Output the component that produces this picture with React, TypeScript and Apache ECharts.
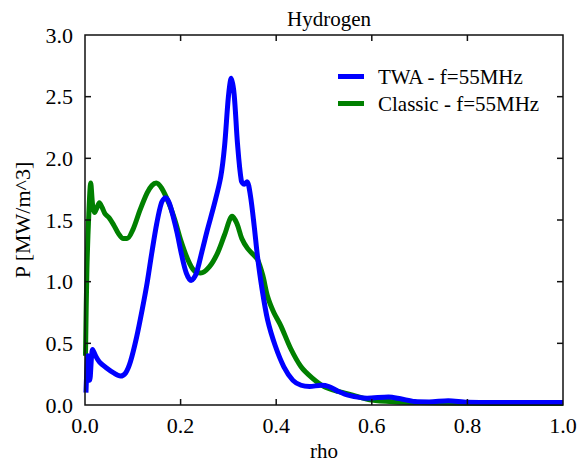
import React, { useEffect, useRef } from "react";
import * as echarts from "echarts";

const twaRho = [0.002, 0.006, 0.010, 0.016, 0.022, 0.030, 0.045, 0.060, 0.074, 0.085, 0.095, 0.108, 0.120, 0.130, 0.140, 0.150, 0.160, 0.168, 0.176, 0.185, 0.193, 0.202, 0.212, 0.222, 0.232, 0.245, 0.256, 0.270, 0.284, 0.292, 0.300, 0.306, 0.312, 0.319, 0.327, 0.333, 0.339, 0.346, 0.354, 0.361, 0.370, 0.382, 0.398, 0.416, 0.435, 0.452, 0.470, 0.494, 0.510, 0.530, 0.550, 0.590, 0.635, 0.660, 0.690, 0.720, 0.760, 0.800, 0.900, 1.000];
const twaP = [0.10, 0.40, 0.20, 0.45, 0.40, 0.35, 0.30, 0.26, 0.235, 0.26, 0.35, 0.55, 0.78, 0.99, 1.24, 1.47, 1.64, 1.68, 1.64, 1.52, 1.39, 1.22, 1.07, 1.01, 1.06, 1.25, 1.42, 1.62, 1.85, 2.10, 2.50, 2.65, 2.52, 2.12, 1.82, 1.79, 1.81, 1.70, 1.45, 1.20, 0.95, 0.69, 0.48, 0.31, 0.20, 0.16, 0.15, 0.16, 0.15, 0.11, 0.08, 0.055, 0.065, 0.05, 0.028, 0.025, 0.035, 0.022, 0.02, 0.02];

const classicRho = [0.001, 0.004, 0.008, 0.012, 0.016, 0.020, 0.025, 0.030, 0.036, 0.042, 0.050, 0.060, 0.070, 0.080, 0.088, 0.100, 0.115, 0.130, 0.140, 0.149, 0.160, 0.175, 0.188, 0.200, 0.215, 0.228, 0.242, 0.260, 0.277, 0.292, 0.308, 0.318, 0.328, 0.340, 0.352, 0.361, 0.372, 0.382, 0.395, 0.410, 0.430, 0.452, 0.475, 0.500, 0.530, 0.560, 0.600, 0.650, 0.700, 0.800, 0.900, 1.000];
const classicP = [0.40, 1.10, 1.55, 1.80, 1.62, 1.56, 1.60, 1.64, 1.60, 1.55, 1.52, 1.46, 1.39, 1.35, 1.35, 1.42, 1.58, 1.72, 1.78, 1.80, 1.76, 1.64, 1.50, 1.34, 1.18, 1.09, 1.07, 1.12, 1.23, 1.38, 1.53, 1.47, 1.35, 1.27, 1.22, 1.18, 1.05, 0.88, 0.75, 0.64, 0.46, 0.31, 0.22, 0.15, 0.11, 0.08, 0.04, 0.025, 0.02, 0.015, 0.012, 0.012];

const xTicks = [0, 0.2, 0.4, 0.6, 0.8, 1.0];
const yTicks = [0, 0.5, 1.0, 1.5, 2.0, 2.5, 3.0];

const seriesNames = ["TWA - f=55MHz", "Classic - f=55MHz"];
const seriesColors = ["#0000ff", "#008000"];

const FONT = "Liberation Serif";

export default function App() {
  const ref = useRef<HTMLDivElement>(null);
  useEffect(() => {
    if (!ref.current) return;
    const chart = echarts.init(ref.current, undefined, { renderer: "svg" });
    const pair = (xs: number[], ys: number[]) => xs.map((x, i) => [x, ys[i]]);
    const xMin = xTicks[0], xMax = xTicks[xTicks.length - 1];
    const yMin = yTicks[0], yMax = yTicks[yTicks.length - 1];

    const frameItem = (params: any, api: any) => {
      const [l, b] = api.coord([xMin, yMin]);
      const [r, t] = api.coord([xMax, yMax]);
      const stroke = { stroke: "#111", lineWidth: 1.5, fill: "none" };
      const children: any[] = [
        { type: "rect", shape: { x: l, y: t, width: r - l, height: b - t }, style: { ...stroke } },
      ];
      xTicks.slice(1, -1).forEach((v) => {
        const [x] = api.coord([v, yMin]);
        children.push({ type: "line", shape: { x1: x, y1: b, x2: x, y2: b - 6 }, style: { ...stroke } });
        children.push({ type: "line", shape: { x1: x, y1: t, x2: x, y2: t + 6 }, style: { ...stroke } });
      });
      yTicks.slice(1, -1).forEach((v) => {
        const [, y] = api.coord([xMin, v]);
        children.push({ type: "line", shape: { x1: l, y1: y, x2: l + 6, y2: y }, style: { ...stroke } });
        children.push({ type: "line", shape: { x1: r, y1: y, x2: r - 6, y2: y }, style: { ...stroke } });
      });
      return { type: "group", children };
    };

    chart.setOption({
      animation: false,
      textStyle: { fontFamily: FONT },
      title: {
        text: "Hydrogen",
        left: 324,
        top: 3,
        textAlign: "center",
        textStyle: { fontFamily: FONT, fontSize: 21, fontWeight: "normal", color: "#000" },
      },
      legend: {
        orient: "vertical",
        left: 333,
        top: 61,
        itemWidth: 26,
        itemHeight: 5,
        itemGap: 6,
        icon: "rect",
        data: seriesNames,
        textStyle: { fontFamily: FONT, fontSize: 21, color: "#000", padding: [0, 0, 0, 9] },
      },
      grid: { left: 85, right: 25, top: 35, bottom: 54, containLabel: false, outerBoundsMode: "none" },
      xAxis: {
        type: "value",
        min: xMin,
        max: xMax,
        interval: 0.2,
        name: "rho",
        nameLocation: "middle",
        nameGap: 27,
        nameTextStyle: { fontFamily: FONT, fontSize: 21, color: "#000" },
        axisLabel: { fontFamily: FONT, fontSize: 22, color: "#000", margin: 9, formatter: (v: number) => v.toFixed(1) },
        axisLine: { show: false },
        axisTick: { show: false },
        splitLine: { show: false },
      },
      yAxis: {
        type: "value",
        min: yMin,
        max: yMax,
        interval: 0.5,
        name: "P [MW/m^3]",
        nameLocation: "middle",
        nameGap: 52,
        nameTextStyle: { fontFamily: FONT, fontSize: 22, color: "#000" },
        axisLabel: { fontFamily: FONT, fontSize: 22, color: "#000", margin: 12, formatter: (v: number) => v.toFixed(1) },
        axisLine: { show: false },
        axisTick: { show: false },
        splitLine: { show: false },
      },
      series: [
        {
          name: seriesNames[0],
          type: "line",
          data: pair(twaRho, twaP),
          showSymbol: false,
          smooth: 0.3,
          color: seriesColors[0],
          lineStyle: { width: 5, color: seriesColors[0] },
          z: 3,
        },
        {
          name: seriesNames[1],
          type: "line",
          data: pair(classicRho, classicP),
          showSymbol: false,
          smooth: 0.3,
          color: seriesColors[1],
          lineStyle: { width: 5, color: seriesColors[1] },
          z: 2,
        },
        {
          name: "frame",
          type: "custom",
          silent: true,
          clip: false,
          z: 10,
          data: [[xMin, yMin]],
          renderItem: frameItem,
        },
      ],
    });
    return () => chart.dispose();
  }, []);
  return <div ref={ref} style={{ width: 588, height: 459, position: "absolute", left: 0, top: 0 }} />;
}
